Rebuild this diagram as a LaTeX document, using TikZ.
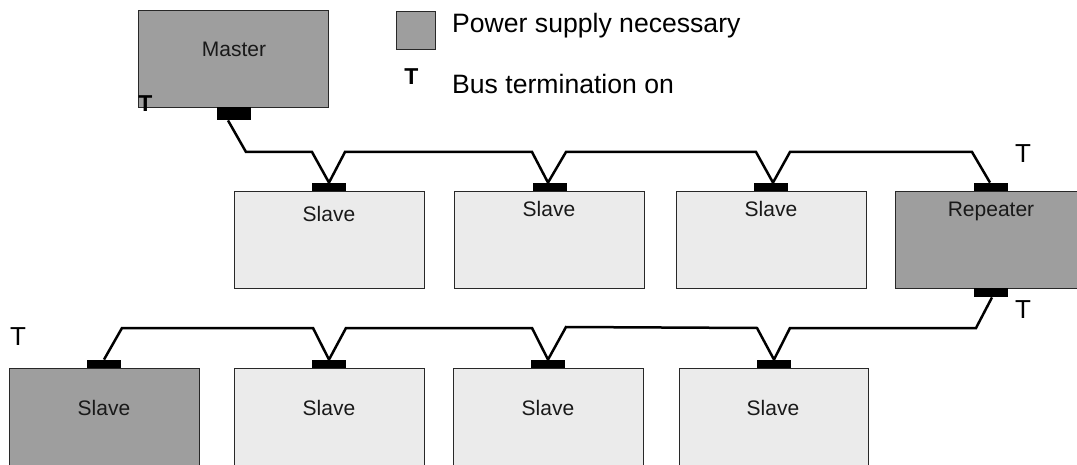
\documentclass[tikz,border=0pt]{standalone}
\usepackage{fontspec}
\setmainfont{Liberation Sans}
\usetikzlibrary{calc}
\definecolor{pwr}{RGB}{158,158,158}
\definecolor{lite}{RGB}{235,235,235}
\definecolor{edge}{RGB}{40,40,40}
\definecolor{ink}{RGB}{25,25,25}
\begin{document}
\begin{tikzpicture}[x=1pt,y=-1pt,
  box/.style={draw=edge,line width=1pt,inner sep=0,anchor=north west},
  powerbox/.style={box,fill=pwr},
  plainbox/.style={box,fill=lite},
  conn/.style={fill=black,draw=none,inner sep=0,minimum width=34pt,minimum height=8pt},
  lbl/.style={inner sep=0,anchor=base,font=\fontsize{21}{25}\selectfont,text=ink},
  legtext/.style={inner sep=0,anchor=base west,font=\fontsize{26.6}{31}\selectfont,text=black},
  tmark/.style={inner sep=0,font=\fontsize{26}{30}\selectfont},
  tbold/.style={inner sep=0,font=\fontsize{23}{27}\selectfont\bfseries},
  wire/.style={line width=2.5pt,line join=miter}]
\useasboundingbox (0,0) rectangle (1077,465);
\clip (0,0) rectangle (1077,465);

% legend
\node[powerbox,minimum width=39pt,minimum height=38pt] (legbox) at (396,11) {};
\node[legtext] (legpwr) at (452,33) {Power supply necessary};
\node[tbold] (legT) at (411.5,76.5) {T};
\node[legtext] (legbus) at (452,94) {Bus termination on};

% boxes, row 1
\node[powerbox,minimum width=190pt,minimum height=97pt] (master) at (138,10) {};
\node[plainbox,minimum width=190pt,minimum height=97pt] (s1) at (234,191) {};
\node[plainbox,minimum width=190pt,minimum height=97pt] (s2) at (454,191) {};
\node[plainbox,minimum width=190pt,minimum height=97pt] (s3) at (676,191) {};
\node[powerbox,minimum width=190pt,minimum height=97pt] (rep) at (895,191) {};

% boxes, row 2
\node[powerbox,minimum width=190pt,minimum height=110pt] (b1) at (9,368) {};
\node[plainbox,minimum width=190pt,minimum height=110pt] (b2) at (234,368) {};
\node[plainbox,minimum width=190pt,minimum height=110pt] (b3) at (453,368) {};
\node[plainbox,minimum width=189pt,minimum height=110pt] (b4) at (679,368) {};

% box labels
\node[lbl] (tmaster) at (234,57) {Master};
\node[lbl] (ts1) at (329,222) {Slave};
\node[lbl] (ts2) at (549,217) {Slave};
\node[lbl] (ts3) at (771,217) {Slave};
\node[lbl] (trep) at (991,217) {Repeater};
\node[lbl] (tb1) at (104,415) {Slave};
\node[lbl] (tb2) at (329,415) {Slave};
\node[lbl] (tb3) at (548,415) {Slave};
\node[lbl] (tb4) at (773,415) {Slave};

% bus connectors
\node[conn,minimum height=13pt,anchor=north] (mc) at (234,107) {};
\node[conn,anchor=south] (s1c) at (329,191) {};
\node[conn,anchor=south] (s2c) at (550,191) {};
\node[conn,anchor=south] (s3c) at (771,191) {};
\node[conn,anchor=south] (rc) at (991,191) {};
\node[conn,minimum height=9pt,anchor=north] (rc2) at (991,288) {};
\node[conn,anchor=south] (b1c) at (104,368) {};
\node[conn,anchor=south] (b2c) at (329,368) {};
\node[conn,anchor=south] (b3c) at (548,368) {};
\node[conn,anchor=south] (b4c) at (774,368) {};

% bus cable, row 1
\draw[wire] ($(mc.south)+(-6,0)$) -- (246,152) -- (312,152) -- (s1c.north)
  -- (345,152) -- (532,152) -- ($(s2c.north)+(-2,0)$)
  -- (566,152) -- (756,152) -- ($(s3c.north)+(2,0)$)
  -- (790,152) -- (972,152) -- ($(rc.north)+(-1,0)$);

% bus cable, row 2
\draw[wire] ($(rc2.south)+(1,0)$) -- (976,328) -- (790,328) -- (b4c.north)
  -- (757,328) -- (566,327) -- (b3c.north)
  -- (532,328) -- (346,328) -- (b2c.north)
  -- (313,328) -- (122,328) -- (b1c.north);

% terminations
\node[tbold] (tm) at (145.5,103.5) {T};
\node[tmark] (trt) at (1023,153.5) {T};
\node[tmark] (trb) at (1023,309.5) {T};
\node[tmark] (tbl) at (18,337) {T};
\end{tikzpicture}
\end{document}
